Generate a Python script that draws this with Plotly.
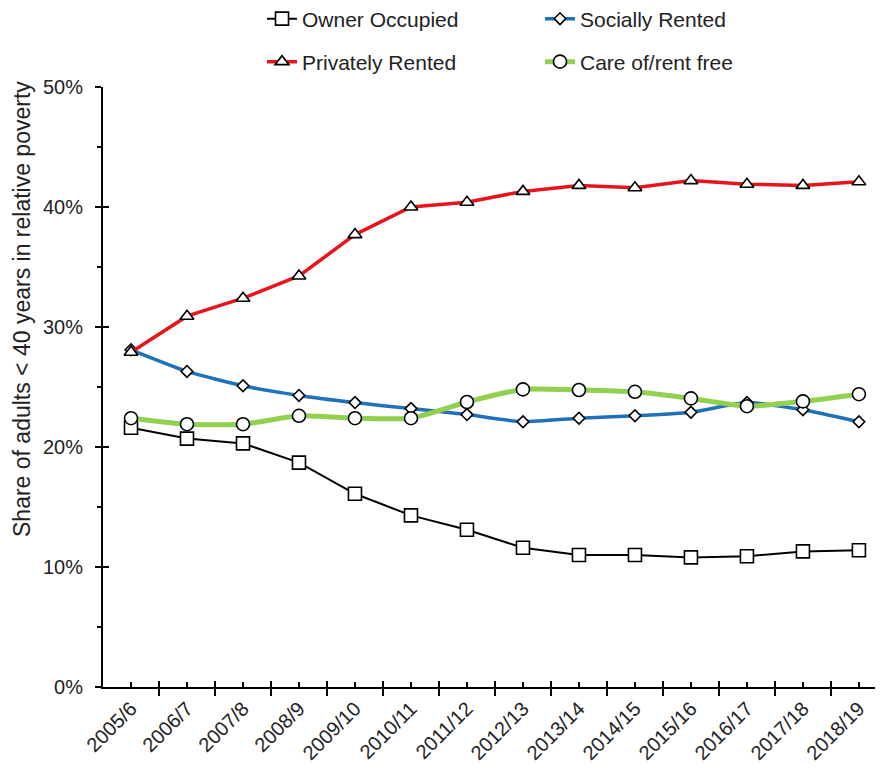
import plotly.graph_objects as go

years = ["2005/6", "2006/7", "2007/8", "2008/9", "2009/10", "2010/11", "2011/12",
         "2012/13", "2013/14", "2014/15", "2015/16", "2016/17", "2017/18", "2018/19"]
owner_occupied = [21.6, 20.7, 20.3, 18.7, 16.1, 14.3, 13.1, 11.6, 11.0, 11.0, 10.8, 10.9, 11.3, 11.4]
socially_rented = [28.1, 26.3, 25.1, 24.3, 23.7, 23.2, 22.7, 22.1, 22.4, 22.6, 22.9, 23.7, 23.1, 22.1]
privately_rented = [27.9, 30.9, 32.4, 34.25, 37.7, 40.0, 40.4, 41.3, 41.8, 41.6, 42.2, 41.9, 41.8, 42.1]
care_rent_free = [22.4, 21.9, 21.9, 22.6, 22.4, 22.4, 23.75, 24.8, 24.75, 24.6, 24.05, 23.4, 23.8, 24.4]

y_ticks = [0, 10, 20, 30, 40, 50]
y_minor = [5, 15, 25, 35, 45]

xpos = list(range(len(years)))
bounds = [i - 0.5 for i in range(len(years) + 1)]

FONT = "Arial, Liberation Sans, sans-serif"

fig = go.Figure()

def add(name, vals, color, width, symbol, size, shape, legend):
    fig.add_trace(go.Scatter(
        x=xpos, y=vals, name=name, mode="lines+markers",
        line=dict(color=color, width=width, shape=shape, smoothing=0.5),
        marker=dict(symbol=symbol, size=size, color="white",
                    line=dict(color="black", width=1.6)),
        legend=legend,
    ))

add("Owner Occupied", owner_occupied, "black", 2, "square", 13, "linear", "legend")
add("Socially Rented", socially_rented, "#1f72ba", 3.5, "diamond", 9, "spline", "legend")
add("Privately Rented", privately_rented, "#e8141c", 3.5, "triangle-up", 12, "linear", "legend2")
add("Care of/rent free", care_rent_free, "#92d050", 5, "circle", 13, "spline", "legend2")

# dummy trace to realise the overlay axes (inside tick marks)
fig.add_trace(go.Scatter(x=[], y=[], xaxis="x2", yaxis="y2", showlegend=False))

xr = [-0.5, 13.43]
yr = [0, 50]

W, H = 875, 762  # page body has an 8px margin

fig.update_layout(
    width=W, height=H,
    margin=dict(l=95, r=0, t=79, b=83, autoexpand=False),
    paper_bgcolor="white", plot_bgcolor="white",
    font=dict(family=FONT, size=20, color="#222"),
    xaxis=dict(
        range=xr, tickmode="array", tickvals=xpos, ticktext=years, automargin=False,
        tickangle=-45, ticks="inside", ticklen=5, tickwidth=1.5, tickcolor="black",
        showline=True, linecolor="black", linewidth=2, showgrid=False, zeroline=False,
        tickfont=dict(size=20, color="#222"),
        minor=dict(tickmode="array", tickvals=bounds, ticks="outside", ticklen=7,
                   tickwidth=2, tickcolor="black", showgrid=False),
    ),
    xaxis2=dict(
        range=xr, overlaying="x", anchor="y", side="bottom", automargin=False,
        tickmode="array", tickvals=bounds, ticks="inside", ticklen=6, tickwidth=2,
        tickcolor="black", showticklabels=False, showline=False, showgrid=False,
        zeroline=False,
    ),
    yaxis=dict(
        range=yr, tickmode="array", tickvals=y_ticks, automargin=False,
        ticktext=[f"{v}%" for v in y_ticks], ticklabelstandoff=8,
        ticks="outside", ticklen=6, tickwidth=2, tickcolor="black",
        showline=True, linecolor="black", linewidth=2, showgrid=False, zeroline=False,
        tickfont=dict(size=20, color="#222"),
        minor=dict(tickmode="array", tickvals=y_minor, ticks="outside", ticklen=4,
                   tickwidth=1.5, tickcolor="black", showgrid=False),
    ),
    yaxis2=dict(
        range=yr, overlaying="y", anchor="x", side="left", automargin=False,
        tickmode="array", tickvals=y_ticks, ticks="inside", ticklen=6, tickwidth=2,
        tickcolor="black", showticklabels=False, showline=False, showgrid=False,
        zeroline=False,
    ),
    legend=dict(
        orientation="h", xref="container", yref="container",
        x=254 / W, y=1 - 11 / H, xanchor="left", yanchor="middle",
        entrywidth=233, entrywidthmode="pixels", itemwidth=30,
        font=dict(size=21, color="#222"), bgcolor="rgba(0,0,0,0)",
    ),
    legend2=dict(
        orientation="h", xref="container", yref="container",
        x=254 / W, y=1 - 54 / H, xanchor="left", yanchor="middle",
        entrywidth=233, entrywidthmode="pixels", itemwidth=30,
        font=dict(size=21, color="#222"), bgcolor="rgba(0,0,0,0)",
    ),
    annotations=[dict(
        text="Share of adults < 40 years in relative poverty",
        xref="paper", yref="paper", x=(14 - 95) / 780, y=(679 - 301) / 600,
        textangle=-90, showarrow=False, font=dict(size=23, color="#222"),
        xanchor="center", yanchor="middle",
    )],
)

fig.write_html("out.html")
